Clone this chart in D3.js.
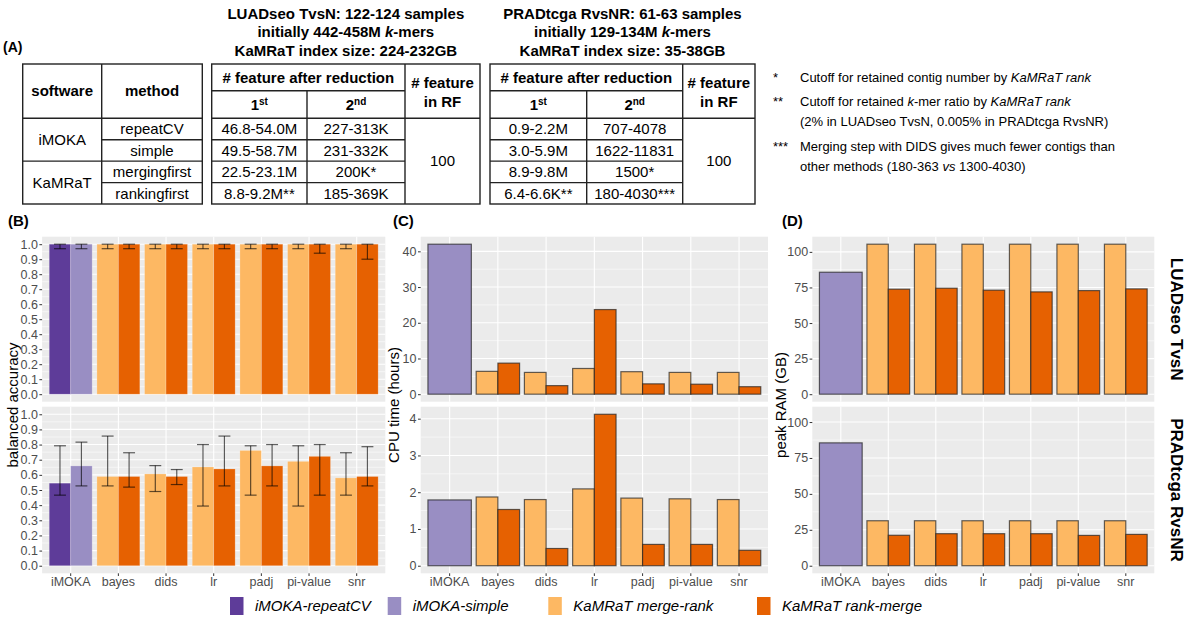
<!DOCTYPE html>
<html><head><meta charset="utf-8">
<script src="https://cdn.jsdelivr.net/npm/d3@7/dist/d3.min.js"></script>
<style>
body{margin:0;background:#fff;}
svg{display:block;font-family:"Liberation Sans",Arial,Helvetica,sans-serif;}
</style></head><body>
<svg id="fig" width="1195" height="619"></svg>
<script>
// ---------------- DATA ----------------
const categories = ["iMOKA","bayes","dids","lr","padj","pi-value","snr"];
const methods = ["bayes","dids","lr","padj","pi-value","snr"];
const seriesNames = ["iMOKA-repeatCV","iMOKA-simple","KaMRaT merge-rank","KaMRaT rank-merge"];
const seriesColors = ["#5e3c99","#998ec3","#fdb863","#e66101"];
const datasets = ["LUADseo TvsN","PRADtcga RvsNR"];

// (B) balanced accuracy, LUADseo TvsN
const accLuadImoka   = [1.0, 1.0];          // repeatCV, simple
const accLuadImokaLo = [0.97, 0.97];
const accLuadImokaHi = [1.0, 1.0];
const accLuadMR   = [1.0, 1.0, 1.0, 1.0, 1.0, 1.0];
const accLuadMRLo = [0.97, 0.97, 0.97, 0.97, 0.97, 0.97];
const accLuadMRHi = [1.0, 1.0, 1.0, 1.0, 1.0, 1.0];
const accLuadRM   = [1.0, 1.0, 1.0, 1.0, 1.0, 1.0];
const accLuadRMLo = [0.97, 0.97, 0.97, 0.97, 0.94, 0.90];
const accLuadRMHi = [1.0, 1.0, 1.0, 1.0, 1.0, 1.0];
// (B) balanced accuracy, PRADtcga RvsNR
const accPradImoka   = [0.545, 0.659];
const accPradImokaLo = [0.466, 0.527];
const accPradImokaHi = [0.792, 0.816];
const accPradMR   = [0.589, 0.606, 0.652, 0.761, 0.689, 0.580];
const accPradMRLo = [0.527, 0.490, 0.394, 0.466, 0.394, 0.466];
const accPradMRHi = [0.856, 0.661, 0.800, 0.792, 0.792, 0.746];
const accPradRM   = [0.589, 0.589, 0.639, 0.659, 0.722, 0.589];
const accPradRMLo = [0.519, 0.536, 0.527, 0.527, 0.466, 0.527];
const accPradRMHi = [0.746, 0.635, 0.856, 0.800, 0.800, 0.786];

// (C) CPU time (hours)
const cpuLuadImoka = 42.0;
const cpuLuadMR = [6.4, 6.1, 7.2, 6.3, 6.1, 6.1];
const cpuLuadRM = [8.7, 2.4, 23.7, 2.9, 2.8, 2.1];
const cpuPradImoka = 1.79;
const cpuPradMR = [1.87, 1.80, 2.09, 1.84, 1.82, 1.80];
const cpuPradRM = [1.53, 0.47, 4.12, 0.58, 0.58, 0.42];

// (D) peak RAM (GB)
const ramLuadImoka = 85.7;
const ramLuadMR = [105.4, 105.4, 105.4, 105.4, 105.4, 105.4];
const ramLuadRM = [73.8, 74.5, 73.1, 71.9, 72.8, 74.0];
const ramPradImoka = 85.5;
const ramPradMR = [31.3, 31.3, 31.3, 31.3, 31.3, 31.3];
const ramPradRM = [21.2, 22.3, 22.3, 22.3, 21.1, 21.8];

// axis ticks
const accTicks = [0,0.1,0.2,0.3,0.4,0.5,0.6,0.7,0.8,0.9,1.0];
const cpuLuadTicks = [0,10,20,30,40];
const cpuPradTicks = [0,1,2,3,4];
const ramTicks = [0,25,50,75,100];

// (A) table
const tableSoftware = ["iMOKA","KaMRaT"];
const tableMethods = ["repeatCV","simple","mergingfirst","rankingfirst"];
const luadFirst  = ["46.8-54.0M","49.5-58.7M","22.5-23.1M","8.8-9.2M**"];
const luadSecond = ["227-313K","231-332K","200K*","185-369K"];
const pradFirst  = ["0.9-2.2M","3.0-5.9M","8.9-9.8M","6.4-6.6K**"];
const pradSecond = ["707-4078","1622-11831","1500*","180-4030***"];
const rfFeatures = "100";
const luadTitle = [["LUADseo TvsN: 122-124 samples"],["initially 442-458M ",["k","i"],"-mers"],["KaMRaT index size: 224-232GB"]];
const pradTitle = [["PRADtcga RvsNR: 61-63 samples"],["initially 129-134M ",["k","i"],"-mers"],["KaMRaT index size: 35-38GB"]];
const notes = [
  {mark:"*", lines:[["Cutoff for retained contig number by ",["KaMRaT rank","i"]]]},
  {mark:"**", lines:[["Cutoff for retained ",["k","i"],"-mer ratio by ",["KaMRaT rank","i"]],["(2% in LUADseo TvsN, 0.005% in PRADtcga RvsNR)"]]},
  {mark:"***", lines:[["Merging step with DIDS gives much fewer contigs than"],["other methods (180-363 ",["vs","i"]," 1300-4030)"]]}
];

// ---------------- DRAW ----------------
const svg = d3.select("#fig");
const FONT_TICK = 12.5, TICKCOL = "#4d4d4d";

function richText(sel, parts){
  parts.forEach(p=>{
    if (typeof p === "string") sel.append("tspan").text(p);
    else sel.append("tspan").attr("font-style", p[1]==="i"?"italic":null).text(p[0]);
  });
}

// ---- Table (A) ----
const gA = svg.append("g");
gA.append("text").attr("x",3).attr("y",52).attr("font-size",14).attr("font-weight","bold").text("(A)");

const T = {top:64, hmid:90.7, hbot:118.3, bot:204};
const rowH = (T.bot - T.hbot)/4;
const rowY = i => T.hbot + i*rowH;
const lineCol = "#222", lineW = 1.4;
function seg(x1,y1,x2,y2){ gA.append("line").attr("x1",x1).attr("y1",y1).attr("x2",x2).attr("y2",y2).attr("stroke",lineCol).attr("stroke-width",lineW); }
function rect(x1,y1,x2,y2){ gA.append("rect").attr("x",x1).attr("y",y1).attr("width",x2-x1).attr("height",y2-y1).attr("fill","none").attr("stroke",lineCol).attr("stroke-width",lineW); }
function ctext(x,y,t,bold,size){ return gA.append("text").attr("x",x).attr("y",y).attr("text-anchor","middle").attr("font-size",size||15).attr("font-weight",bold?"bold":null).text(t); }

// left table
const L = {x0:22.7, x1:101.7, x2:202.3};
rect(L.x0,T.top,L.x2,T.bot);
seg(L.x1,T.top,L.x1,T.bot);
seg(L.x0,T.hbot,L.x2,T.hbot);
seg(L.x0,rowY(2),L.x2,rowY(2));
seg(L.x1,rowY(1),L.x2,rowY(1));
seg(L.x1,rowY(3),L.x2,rowY(3));
ctext((L.x0+L.x1)/2,(T.top+T.hbot)/2+5.3,"software",true);
ctext((L.x1+L.x2)/2,(T.top+T.hbot)/2+5.3,"method",true);
tableSoftware.forEach((s,i)=> ctext((L.x0+L.x1)/2, rowY(2*i+1)+5.3, s));
tableMethods.forEach((m,i)=> ctext((L.x1+L.x2)/2, rowY(i)+rowH/2+5.3, m));

function dataTable(x0,x1,x2,x3,first,second,title){
  rect(x0,T.top,x3,T.bot);
  seg(x2,T.top,x2,T.bot);
  seg(x1,T.hmid,x1,T.bot);
  seg(x0,T.hmid,x2,T.hmid);
  seg(x0,T.hbot,x3,T.hbot);
  [1,2,3].forEach(i=>seg(x0,rowY(i),x2,rowY(i)));
  ctext((x0+x2)/2,(T.top+T.hmid)/2+5.3,"# feature after reduction",true);
  const t1 = ctext((x0+x1)/2,(T.hmid+T.hbot)/2+5.3,"1",true);
  t1.append("tspan").attr("font-size",10).attr("dy",-5).text("st");
  const t2 = ctext((x1+x2)/2,(T.hmid+T.hbot)/2+5.3,"2",true);
  t2.append("tspan").attr("font-size",10).attr("dy",-5).text("nd");
  ctext((x2+x3)/2,88,"# feature",true);
  ctext((x2+x3)/2,107,"in RF",true);
  first.forEach((v,i)=> ctext((x0+x1)/2,rowY(i)+rowH/2+5.3,v));
  second.forEach((v,i)=> ctext((x1+x2)/2,rowY(i)+rowH/2+5.3,v));
  ctext((x2+x3)/2,(T.hbot+T.bot)/2+5.3,rfFeatures);
  const ys=[18.5,37,55.5];
  title.forEach((ln,i)=>{
    const t = gA.append("text").attr("x",(x0+x3)/2).attr("y",ys[i]).attr("text-anchor","middle").attr("font-size",15).attr("font-weight","bold");
    richText(t, ln);
  });
}
dataTable(211.7,307,405,480,luadFirst,luadSecond,luadTitle);
dataTable(490,586.7,682.7,755,pradFirst,pradSecond,pradTitle);

// notes
const noteY = [[81.5],[106,126],[150.5,171]];
notes.forEach((n,i)=>{
  gA.append("text").attr("x",773).attr("y",noteY[i][0]).attr("font-size",13).text(n.mark);
  n.lines.forEach((ln,j)=>{
    const t = gA.append("text").attr("x",800).attr("y",noteY[i][j]).attr("font-size",13);
    richText(t, ln);
  });
});

// ---- helpers for bar panels ----
function accRows(im, imLo, imHi, mr, mrLo, mrHi, rm, rmLo, rmHi){
  const rows = [
    {cat:"iMOKA", sub:0, s:0, v:im[0], lo:imLo[0], hi:imHi[0]},
    {cat:"iMOKA", sub:1, s:1, v:im[1], lo:imLo[1], hi:imHi[1]}];
  methods.forEach((m,i)=>{
    rows.push({cat:m, sub:0, s:2, v:mr[i], lo:mrLo[i], hi:mrHi[i]});
    rows.push({cat:m, sub:1, s:3, v:rm[i], lo:rmLo[i], hi:rmHi[i]});
  });
  return rows;
}
function resRows(im, mr, rm){
  const rows = [{cat:"iMOKA", sub:-1, s:1, v:im}];
  methods.forEach((m,i)=>{
    rows.push({cat:m, sub:0, s:2, v:mr[i]});
    rows.push({cat:m, sub:1, s:3, v:rm[i]});
  });
  return rows;
}

function facet(cfg){
  const g = svg.append("g");
  const x = d3.scaleBand().domain(categories).range([cfg.L,cfg.R]).paddingInner(0).paddingOuter(0.1);
  const step = x.step();
  const cx = c => x(c) + x.bandwidth()/2;
  const y = d3.scaleLinear().domain(cfg.domain).range([cfg.bottom, cfg.top]);
  g.append("rect").attr("x",cfg.L).attr("y",cfg.top).attr("width",cfg.R-cfg.L).attr("height",cfg.bottom-cfg.top).attr("fill","#ebebeb");
  // minor grid
  const tk = cfg.ticks, half = (tk[1]-tk[0])/2;
  const minors = [];
  for (let i=0;i<tk.length;i++){ const m = tk[i]+half; if (m < cfg.domain[1]) minors.push(m); }
  if (tk[0]-half > cfg.domain[0]) minors.push(tk[0]-half);
  g.selectAll(".mn").data(minors).join("line").attr("x1",cfg.L).attr("x2",cfg.R)
    .attr("y1",d=>y(d)).attr("y2",d=>y(d)).attr("stroke","#fff").attr("stroke-width",0.55);
  g.selectAll(".mj").data(tk).join("line").attr("x1",cfg.L).attr("x2",cfg.R)
    .attr("y1",d=>y(d)).attr("y2",d=>y(d)).attr("stroke","#fff").attr("stroke-width",1.1);
  g.selectAll(".vg").data(categories).join("line").attr("x1",d=>cx(d)).attr("x2",d=>cx(d))
    .attr("y1",cfg.top).attr("y2",cfg.bottom).attr("stroke","#fff").attr("stroke-width",1.1);
  const bx = d => d.sub < 0 ? cx(d.cat) - 0.45*step : cx(d.cat) - 0.45*step + d.sub*0.45*step;
  const bw = d => d.sub < 0 ? 0.9*step : 0.45*step;
  const bars = g.selectAll(".bar").data(cfg.rows).join("rect")
    .attr("x",bx).attr("width",bw)
    .attr("y",d=>y(d.v)).attr("height",d=>y(0)-y(d.v))
    .attr("fill",d=>seriesColors[d.s]);
  if (cfg.outline) bars.attr("stroke","#222").attr("stroke-opacity",0.7).attr("stroke-width",1.2);
  else bars.attr("stroke","#fff").attr("stroke-opacity",0.25).attr("stroke-width",0.8);
  if (cfg.err){
    const ecol = "rgba(0,0,0,0.62)";
    const ex = d => bx(d) + bw(d)/2, cw = 0.125*step;
    g.selectAll(".ev").data(cfg.rows).join("line").attr("x1",ex).attr("x2",ex)
      .attr("y1",d=>y(d.lo)).attr("y2",d=>y(d.hi)).attr("stroke",ecol).attr("stroke-width",1.2);
    ["lo","hi"].forEach(k=>{
      g.selectAll(".ec"+k).data(cfg.rows).join("line").attr("x1",d=>ex(d)-cw).attr("x2",d=>ex(d)+cw)
        .attr("y1",d=>y(d[k])).attr("y2",d=>y(d[k])).attr("stroke",ecol).attr("stroke-width",1.2);
    });
  }
  const ax = g.append("g").attr("transform",`translate(${cfg.L},0)`)
    .call(d3.axisLeft(y).tickValues(tk).tickFormat(cfg.fmt).tickSize(2.7).tickPadding(1.5));
  ax.select(".domain").remove();
  ax.selectAll("line").attr("stroke","#333").attr("stroke-width",1);
  ax.selectAll("text").attr("fill",TICKCOL).attr("font-size",FONT_TICK).attr("font-family",null);
  if (cfg.showX){
    const bxA = g.append("g").attr("transform",`translate(0,${cfg.bottom})`)
      .call(d3.axisBottom(x).tickSize(2.7).tickPadding(1));
    bxA.select(".domain").remove();
    bxA.selectAll("line").attr("stroke","#333").attr("stroke-width",1);
    bxA.selectAll("text").attr("fill",TICKCOL).attr("font-size",FONT_TICK).attr("font-family",null);
  }
  return g;
}

const F1 = {top:236.7, bottom:401.7}, F2 = {top:406.7, bottom:573.3};
const fmt1 = d3.format(".1f"), fmt0 = d3.format("d");

// (B)
const B = {L:42.1, R:385.3};
facet({...B, ...F1, domain:[-0.05,1.05], ticks:accTicks, fmt:fmt1, err:true, outline:false,
  rows:accRows(accLuadImoka,accLuadImokaLo,accLuadImokaHi,accLuadMR,accLuadMRLo,accLuadMRHi,accLuadRM,accLuadRMLo,accLuadRMHi)});
facet({...B, ...F2, domain:[-0.05,1.05], ticks:accTicks, fmt:fmt1, err:true, outline:false, showX:true,
  rows:accRows(accPradImoka,accPradImokaLo,accPradImokaHi,accPradMR,accPradMRLo,accPradMRHi,accPradRM,accPradRMLo,accPradRMHi)});

// (C)
const C = {L:420.7, R:768};
const cpuL = resRows(cpuLuadImoka,cpuLuadMR,cpuLuadRM);
const cpuP = resRows(cpuPradImoka,cpuPradMR,cpuPradRM);
const cpuLmax = d3.max(cpuL,d=>d.v), cpuPmax = d3.max(cpuP,d=>d.v);
facet({...C, ...F1, domain:[-0.05*cpuLmax,1.05*cpuLmax], ticks:cpuLuadTicks, fmt:fmt0, outline:true, rows:cpuL});
facet({...C, ...F2, domain:[-0.05*cpuPmax,1.05*cpuPmax], ticks:cpuPradTicks, fmt:fmt0, outline:true, showX:true, rows:cpuP});

// (D)
const D = {L:812.3, R:1154.3};
const ramL = resRows(ramLuadImoka,ramLuadMR,ramLuadRM);
const ramP = resRows(ramPradImoka,ramPradMR,ramPradRM);
const ramMax = d3.max(ramL.concat(ramP),d=>d.v);
facet({...D, ...F1, domain:[-0.05*ramMax,1.05*ramMax], ticks:ramTicks, fmt:fmt0, outline:true, rows:ramL});
facet({...D, ...F2, domain:[-0.05*ramMax,1.05*ramMax], ticks:ramTicks, fmt:fmt0, outline:true, showX:true, rows:ramP});

// panel labels
[["(B)",8],["(C)",393],["(D)",782]].forEach(([t,x])=>
  svg.append("text").attr("x",x).attr("y",225.5).attr("font-size",15).attr("font-weight","bold").text(t));

// y titles
const midY = (F1.top+F2.bottom)/2;
[["balanced accuracy",17.8],["CPU time (hours)",398.5],["peak RAM (GB)",785.8]].forEach(([t,x])=>
  svg.append("text").attr("transform",`translate(${x},${midY}) rotate(-90)`).attr("text-anchor","middle").attr("font-size",15).text(t));

// strip labels
[[datasets[0],F1],[datasets[1],F2]].forEach(([t,f])=>
  svg.append("text").attr("transform",`translate(1171,${(f.top+f.bottom)/2}) rotate(90)`).attr("text-anchor","middle")
    .attr("font-size",17).attr("font-weight","bold").text(t));

// legend
const legX = [230, 387.7, 548.3, 757];
const lg = svg.append("g");
seriesNames.forEach((n,i)=>{
  lg.append("rect").attr("x",legX[i]).attr("y",597).attr("width",13.5).attr("height",18).attr("fill",seriesColors[i]);
  lg.append("text").attr("x",legX[i]+25).attr("y",611).attr("font-size",15).attr("font-style","italic").text(n);
});
</script>
</body></html>
